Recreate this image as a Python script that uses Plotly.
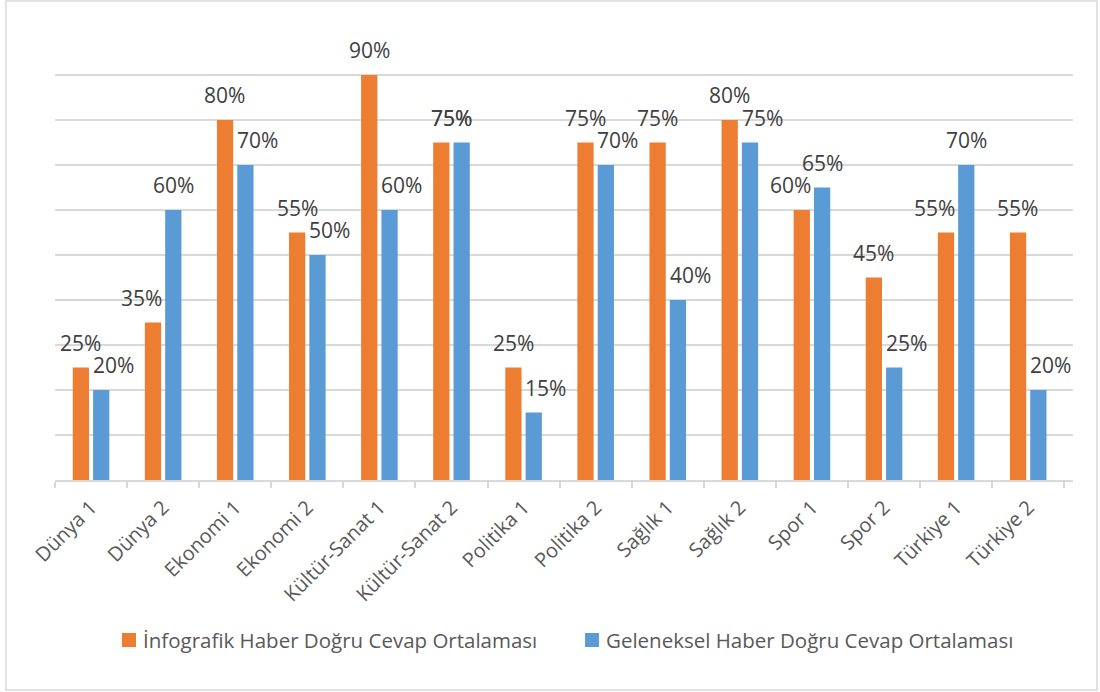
import plotly.graph_objects as go

categories = ["Dünya 1", "Dünya 2", "Ekonomi 1", "Ekonomi 2", "Kültür-Sanat 1",
              "Kültür-Sanat 2", "Politika 1", "Politika 2", "Sağlık 1", "Sağlık 2",
              "Spor 1", "Spor 2", "Türkiye 1", "Türkiye 2"]
infografik = [25, 35, 80, 55, 90, 75, 25, 75, 75, 80, 60, 45, 55, 55]
geleneksel = [20, 60, 70, 50, 60, 75, 15, 70, 40, 75, 65, 25, 70, 20]
series_names = ["İnfografik Haber Doğru Cevap Ortalaması",
                "Geleneksel Haber Doğru Cevap Ortalaması"]

ORANGE = "#ED7D31"
BLUE = "#5B9BD5"
GRID = "#D9D9D9"
FONT = "Open Sans"

fig = go.Figure()
fig.add_trace(go.Bar(x=categories, y=infografik, name=series_names[0],
                     marker=dict(color=ORANGE, line=dict(width=0))))
fig.add_trace(go.Bar(x=categories, y=geleneksel, name=series_names[1],
                     marker=dict(color=BLUE, line=dict(width=0))))

# value labels above each bar; the shorter bar's label is nudged aside
BAR_OFF = 10.3
annotations = []
for cat, o, b in zip(categories, infografik, geleneksel):
    if o > b:
        o_dx, b_dx = 0, 12
    elif b > o:
        o_dx, b_dx = -11, 0
    else:
        o_dx, b_dx = BAR_OFF, -BAR_OFF
    annotations.append(dict(x=cat, y=o, text=f"{o}%", showarrow=False,
                            xshift=-BAR_OFF + o_dx, yshift=25, yanchor="middle",
                            font=dict(family=FONT, size=21, color="#404040")))
    annotations.append(dict(x=cat, y=b, text=f"{b}%", showarrow=False,
                            xshift=BAR_OFF + b_dx, yshift=25, yanchor="middle",
                            font=dict(family=FONT, size=21, color="#404040")))

ML, MR, MT, MB = 55, 27, 30, 212
W, H = 1100, 692
pw, ph = W - ML - MR, H - MT - MB

def px_x(p):
    return (p - ML) / pw

def px_y(p):
    return (H - MB - p) / ph

# legend drawn as square swatches + text, one entry per series
shapes = [dict(type="rect", xref="paper", yref="paper",
               x0=px_x(6), x1=px_x(1097), y0=px_y(690), y1=px_y(1),
               line=dict(color=GRID, width=1.5), fillcolor="rgba(0,0,0,0)",
               layer="below")]
legend_y = 640
for name, color, sx in zip(series_names, [ORANGE, BLUE], [122, 585]):
    shapes.append(dict(type="rect", xref="paper", yref="paper",
                       x0=px_x(sx), x1=px_x(sx + 14),
                       y0=px_y(legend_y + 7), y1=px_y(legend_y - 7),
                       line=dict(width=0), fillcolor=color))
    annotations.append(dict(xref="paper", yref="paper", x=px_x(sx + 19),
                            y=px_y(legend_y), xanchor="left", yanchor="middle",
                            text=name, showarrow=False,
                            font=dict(family=FONT, size=20.5, color="#595959")))

fig.update_layout(
    width=W, height=H,
    margin=dict(l=ML, r=MR, t=MT, b=MB),
    paper_bgcolor="white", plot_bgcolor="white",
    barmode="group", bargap=0.436, bargroupgap=0.2,
    font=dict(family=FONT, color="#595959"),
    annotations=annotations,
    showlegend=False,
    shapes=shapes,
)

fig.update_xaxes(
    type="category", tickangle=-45, showgrid=False,
    showline=True, linecolor=GRID, linewidth=1.5,
    ticks="outside", tickson="boundaries", ticklen=6, tickcolor=GRID, tickwidth=1.5,
    ticklabelstandoff=6,
    tickfont=dict(family=FONT, size=20, color="#595959"),
)
fig.update_yaxes(
    range=[0, 100], dtick=10, showticklabels=False, ticks="",
    showgrid=True, gridcolor=GRID, gridwidth=1.5, zeroline=False, showline=False,
)

fig.write_html("out.html")
